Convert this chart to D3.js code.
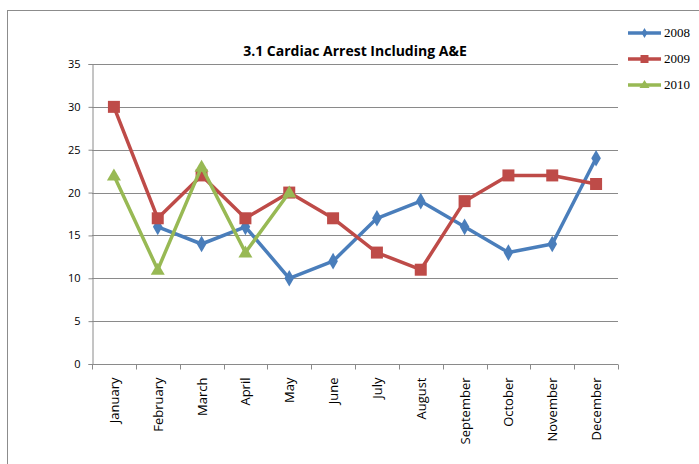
<!DOCTYPE html>
<html>
<head>
<meta charset="utf-8">
<script src="https://cdn.jsdelivr.net/npm/d3@7"></script>
<style>
  body { margin: 0; background: #fff; }
  svg { display: block; }
</style>
</head>
<body>
<div id="chart"></div>
<script>
// data
const months = ['January', 'February', 'March', 'April', 'May', 'June',
  'July', 'August', 'September', 'October', 'November', 'December'];
const values2008 = [null, 16, 14, 16, 10, 12, 17, 19, 16, 13, 14, 24];
const values2009 = [30, 17, 22, 17, 20, 17, 13, 11, 19, 22, 22, 21];
const values2010 = [22, 11, 23, 13, 20, null, null, null, null, null, null, null];
const yTicks = [0, 5, 10, 15, 20, 25, 30, 35];

const series = [
  { name: '2008', values: values2008, color: '#4a7ebb', marker: 'diamond' },
  { name: '2009', values: values2009, color: '#be4b48', marker: 'square' },
  { name: '2010', values: values2010, color: '#98b954', marker: 'triangle' }
];

const width = 699, height = 464;
const plot = { left: 92, top: 64, right: 618, bottom: 364 };

const svg = d3.select('#chart').append('svg')
  .attr('width', width)
  .attr('height', height);

// outer chart frame
svg.append('rect')
  .attr('x', 7.5).attr('y', 10.5)
  .attr('width', 720).attr('height', 480)
  .attr('fill', 'none')
  .attr('stroke', '#8c8c8c')
  .attr('stroke-width', 1);

const x = d3.scaleBand().domain(months).range([plot.left, plot.right]);
const y = d3.scaleLinear().domain([0, 35]).range([plot.bottom, plot.top]);

// gridlines
svg.append('g')
  .selectAll('line')
  .data(yTicks.filter(d => d > 0))
  .enter().append('line')
    .attr('x1', plot.left).attr('x2', plot.right)
    .attr('y1', d => Math.round(y(d)) + 0.5)
    .attr('y2', d => Math.round(y(d)) + 0.5)
    .attr('stroke', '#8a8a8a')
    .attr('stroke-width', 1);

// y axis
const yAxis = svg.append('g')
  .attr('transform', `translate(${plot.left + 0.5},0)`)
  .call(d3.axisLeft(y).tickValues(yTicks).tickSize(4).tickPadding(8));
yAxis.select('.domain').attr('stroke', '#8a8a8a');
yAxis.selectAll('.tick line').attr('stroke', '#8a8a8a');
yAxis.selectAll('.tick text')
  .attr('font-family', 'Open Sans, sans-serif')
  .attr('font-size', 11)
  .attr('fill', '#000');

// x axis, ticks on category boundaries
const xAxisG = svg.append('g')
  .attr('transform', `translate(0,${plot.bottom + 0.5})`);
xAxisG.append('line')
  .attr('x1', plot.left).attr('x2', plot.right)
  .attr('stroke', '#8a8a8a');
const bounds = months.map(m => x(m)).concat([plot.right]);
xAxisG.selectAll('line.tick')
  .data(bounds)
  .enter().append('line')
    .attr('class', 'tick')
    .attr('x1', d => Math.round(d) + 0.5).attr('x2', d => Math.round(d) + 0.5)
    .attr('y1', 0).attr('y2', 5)
    .attr('stroke', '#8a8a8a');
xAxisG.selectAll('text')
  .data(months)
  .enter().append('text')
    .attr('transform', d => `translate(${x(d) + x.bandwidth() / 2 + 5},${13}) rotate(-90)`)
    .attr('text-anchor', 'end')
    .attr('font-family', 'Open Sans, sans-serif')
    .attr('font-size', 13)
    .attr('fill', '#000')
    .text(d => d);

// title
svg.append('text')
  .attr('x', 355).attr('y', 56)
  .attr('text-anchor', 'middle')
  .attr('font-family', 'Open Sans, sans-serif')
  .attr('font-weight', 'bold')
  .attr('font-size', 14)
  .attr('fill', '#000')
  .text('3.1 Cardiac Arrest Including A&E');

const line = d3.line()
  .defined(d => d != null)
  .x((d, i) => x(months[i]) + x.bandwidth() / 2)
  .y(d => y(d));

function markerPath(type) {
  if (type === 'diamond') return d3.symbol(d3.symbolDiamond, 80)();
  if (type === 'square') return 'M-6,-6H6V6H-6Z';
  return 'M0,-7L7,5H-7Z';
}

series.forEach(s => {
  const g = svg.append('g');
  g.append('path')
    .datum(s.values)
    .attr('d', line)
    .attr('fill', 'none')
    .attr('stroke', s.color)
    .attr('stroke-width', 3.5)
    .attr('stroke-linejoin', 'round');
  g.selectAll('path.marker')
    .data(s.values.map((v, i) => ({ v, i })).filter(d => d.v != null))
    .enter().append('path')
      .attr('class', 'marker')
      .attr('d', markerPath(s.marker))
      .attr('transform', d => `translate(${x(months[d.i]) + x.bandwidth() / 2},${y(d.v)})`)
      .attr('fill', s.color);
});

// legend
const legend = svg.append('g');
series.forEach((s, i) => {
  const ly = 33 + i * 26;
  legend.append('line')
    .attr('x1', 628).attr('x2', 661)
    .attr('y1', ly).attr('y2', ly)
    .attr('stroke', s.color)
    .attr('stroke-width', 3.5);
  legend.append('path')
    .attr('d', s.marker === 'diamond' ? d3.symbol(d3.symbolDiamond, 30)()
      : s.marker === 'square' ? 'M-4,-4H4V4H-4Z' : 'M0,-5L5,3H-5Z')
    .attr('transform', `translate(644.5,${ly})`)
    .attr('fill', s.color);
  legend.append('text')
    .attr('x', 664).attr('y', ly + 4)
    .attr('font-family', 'Liberation Serif, serif')
    .attr('font-size', 13)
    .attr('fill', '#000')
    .text(s.name);
});
</script>
</body>
</html>
